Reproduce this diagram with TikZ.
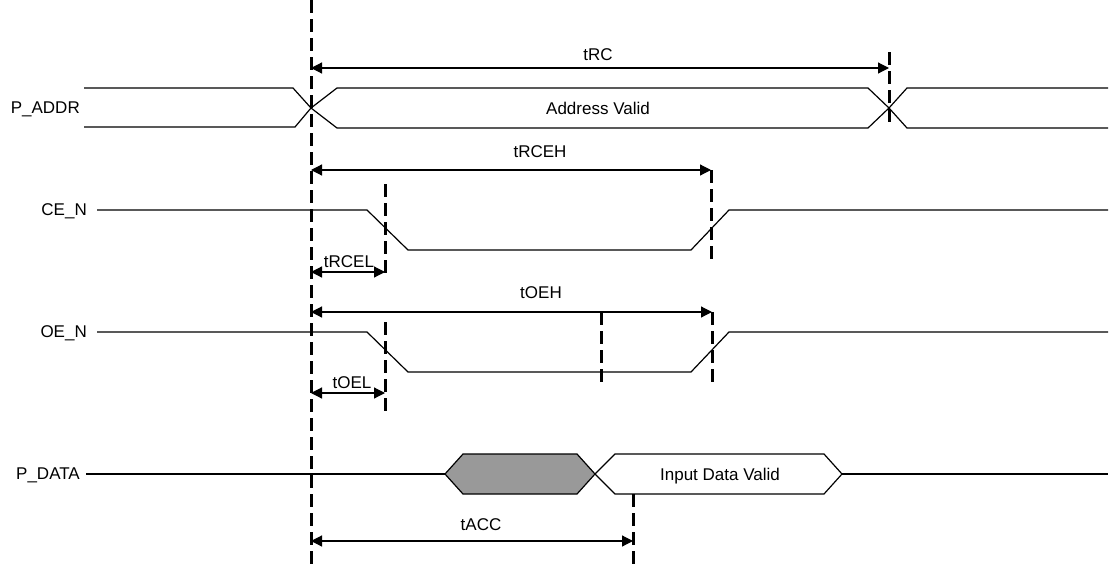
\documentclass[tikz,border=0pt]{standalone}
\usepackage{fontspec}
\setmainfont{Liberation Sans}
\usetikzlibrary{arrows.meta}

\begin{document}
\begin{tikzpicture}[x=1pt, y=-1pt, sig/.style={line width=1.2pt}, guide/.style={line width=3pt, dash pattern=on 13pt off 6pt}, span/.style={line width=1.2pt, {Triangle[length=11pt,width=11pt]}-{Triangle[length=11pt,width=11pt]}}, lbl/.style={font=\fontsize{17}{20}\selectfont, inner sep=0pt, text depth=0pt}]
	\useasboundingbox (0,0) rectangle (1112,568);

	% marks
	\coordinate (t0top) at (311,0); \coordinate (t0bot) at (311,568);
	\coordinate (trctop) at (889,52); \coordinate (trcbot) at (889,128);
	\coordinate (cefall) at (385,184); \coordinate (cefallb) at (385,277);
	\coordinate (cerise) at (711,170); \coordinate (ceriseb) at (711,263);
	\coordinate (oefall) at (385,322); \coordinate (oefallb) at (385,413);
	\coordinate (oemid) at (601,312); \coordinate (oemidb) at (601,386);
	\coordinate (oerise) at (712,312); \coordinate (oeriseb) at (712,386);
	\coordinate (acctop) at (633,494); \coordinate (accbot) at (633,568);

	% nodes
	\node[lbl, anchor=east] (paddr) at (80,108) {P\_ADDR};
	\node[lbl, anchor=east] (cen) at (87,210) {CE\_N};
	\node[lbl, anchor=east] (oen) at (87,332) {OE\_N};
	\node[lbl, anchor=east] (pdata) at (80,474) {P\_DATA};
	\node[lbl] (addrval) at (598,108) {Address Valid};
	\node[lbl] (dataval) at (720,474) {Input Data Valid};
	\node[lbl] (trc) at (598,55) {tRC};
	\node[lbl] (trceh) at (540,152) {tRCEH};
	\node[lbl] (trcel) at (349,262) {tRCEL};
	\node[lbl] (toeh) at (541,293) {tOEH};
	\node[lbl] (toel) at (352,383) {tOEL};
	\node[lbl] (tacc) at (481,525) {tACC};

	% waves
	\draw[sig] (84,88) -- (293,88) -- (311,108) -- (337,128) -- (868,128) -- (889,108) -- (907,88) -- (1108,88);
	\draw[sig] (84,127) -- (295,127) -- (311,108) -- (337,88) -- (868,88) -- (889,108) -- (907,128) -- (1108,128);
	\draw[sig] (97,210) -- (367,210) -- (408,250) -- (691,250) -- (729,210) -- (1108,210);
	\draw[sig] (97,332) -- (367,332) -- (408,372) -- (691,372) -- (729,332) -- (1108,332);
	\draw[sig] (86,474) -- (445,474);
	\draw[sig, fill=black!40] (445,474) -- (463,454) -- (577,454) -- (595,474) -- (577,494) -- (463,494) -- cycle;
	\draw[sig] (595,474) -- (615,454) -- (824,454) -- (842,474) -- (824,494) -- (615,494) -- cycle;
	\draw[sig] (842,474) -- (1108,474);

	% guides
	\draw[guide] (t0top) -- (t0bot);
	\draw[guide] (trctop) -- (trcbot);
	\draw[guide] (cefall) -- (cefallb);
	\draw[guide] (cerise) -- (ceriseb);
	\draw[guide] (oefall) -- (oefallb);
	\draw[guide] (oemid) -- (oemidb);
	\draw[guide] (oerise) -- (oeriseb);
	\draw[guide] (acctop) -- (accbot);

	% edges
	\draw[span] (311,68) -- (trctop |- 0,68);
	\draw[span] (311,170) -- (cerise);
	\draw[span] (311,272) -- (cefall |- 0,272);
	\draw[span] (311,312) -- (oerise);
	\draw[span] (311,393) -- (oefall |- 0,393);
	\draw[span] (311,541) -- (acctop |- 0,541);
\end{tikzpicture}
\end{document}
